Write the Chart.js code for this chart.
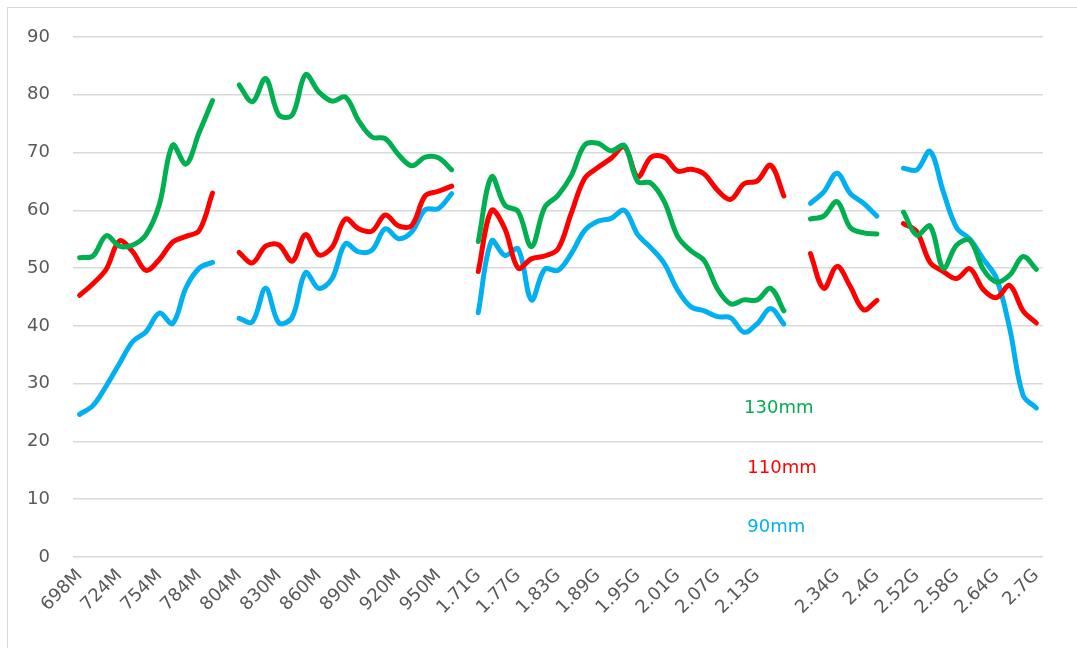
<!DOCTYPE html>
<html>
<head>
<meta charset="utf-8">
<script src="https://cdn.jsdelivr.net/npm/chart.js@4.4.1/dist/chart.umd.min.js"></script>
<style>
  html, body { margin: 0; padding: 0; background: #fff; overflow: hidden; }
  canvas { display: block; }
</style>
</head>
<body>
<canvas id="freqChart" width="1077" height="648"></canvas>
<script>
// frequency points (only every third one is labelled on the axis)
const categories = [
  "698M", "704M", "714M", "724M", "734M", "744M", "754M", "764M", "774M", "784M", "794M",
  "",
  "804M", "814M", "824M", "830M", "840M", "850M", "860M", "870M", "880M", "890M", "900M",
  "910M", "920M", "930M", "940M", "950M", "960M",
  "",
  "1.71G", "1.73G", "1.75G", "1.77G", "1.79G", "1.81G", "1.83G", "1.85G", "1.87G", "1.89G",
  "1.91G", "1.93G", "1.95G", "1.97G", "1.99G", "2.01G", "2.03G", "2.05G", "2.07G", "2.09G",
  "2.11G", "2.13G", "2.15G", "2.17G",
  "",
  "2.3G", "2.32G", "2.34G", "2.36G", "2.38G", "2.4G",
  "",
  "2.5G", "2.52G", "2.54G", "2.56G", "2.58G", "2.6G", "2.62G", "2.64G", "2.66G", "2.68G", "2.7G"
];

const values130 = [
  51.8, 52.1, 55.6, 53.8, 54.0, 55.8, 61.0, 71.3, 68.0, 73.5, 79.0,
  null,
  81.7, 78.8, 82.8, 76.5, 76.5, 83.5, 80.5, 78.9, 79.6, 75.5, 72.7, 72.4, 69.6, 67.7, 69.2, 69.1, 67.0,
  null,
  54.6, 65.8, 60.9, 59.8, 53.7, 60.5, 62.6, 66.0, 71.3, 71.6, 70.3, 71.2, 65.0, 64.7, 61.5, 55.5,
  53.0, 51.3, 46.4, 43.8, 44.5, 44.5, 46.5, 42.6,
  null,
  58.5, 59.0, 61.5, 57.0, 56.1, 55.9,
  null,
  59.7, 55.7, 57.3, 50.0, 54.0, 54.8, 49.8, 47.6, 48.8, 52.0, 49.8
];

const values110 = [
  45.3, 47.3, 49.8, 54.7, 52.8, 49.6, 51.5, 54.5, 55.5, 56.5, 63.0,
  null,
  52.7, 50.9, 53.8, 54.0, 51.2, 55.8, 52.3, 53.6, 58.5, 56.8, 56.4, 59.2, 57.3, 57.4, 62.5, 63.3, 64.2,
  null,
  49.4, 60.0, 56.8, 50.0, 51.6, 52.1, 53.3, 59.5, 65.5, 67.4, 69.0, 71.0, 65.8, 69.2, 69.2, 66.8,
  67.1, 66.3, 63.5, 61.9, 64.6, 65.1, 67.8, 62.5,
  null,
  52.5, 46.5, 50.3, 46.8, 42.8, 44.4,
  null,
  57.7, 56.3, 51.0, 49.4, 48.2, 49.9, 46.3, 44.9, 47.0, 42.6, 40.5
];

const values90 = [
  24.7, 26.2, 29.6, 33.5, 37.3, 39.0, 42.2, 40.4, 46.6, 50.0, 51.0,
  null,
  41.3, 40.7, 46.5, 40.5, 41.5, 49.2, 46.5, 48.2, 54.2, 52.8, 53.1, 56.8, 55.1, 56.3, 60.1, 60.3, 62.9,
  null,
  42.3, 54.7, 52.2, 53.3, 44.5, 49.8, 49.6, 52.5, 56.5, 58.1, 58.6, 60.0, 55.8, 53.5, 50.8, 46.2,
  43.3, 42.6, 41.6, 41.4, 38.9, 40.4, 43.0, 40.3,
  null,
  61.2, 63.2, 66.4, 62.9, 61.2, 59.0,
  null,
  67.3, 67.0, 70.2, 63.2, 57.0, 55.0, 51.6, 48.2, 39.5, 28.0, 25.8
];

const seriesNames = ["130mm", "110mm", "90mm"];
const seriesColors = ["#00B050", "#FF0000", "#00B0F0"];
const yTicks = [0, 10, 20, 30, 40, 50, 60, 70, 80, 90];

const FONT = "'DejaVu Sans', sans-serif";
const TEXT = "#595959";

// series names written inside the plot, Excel text-box style
const seriesTags = [
  { name: seriesNames[0], color: seriesColors[0], at: 50, y: 25.8 },
  { name: seriesNames[1], color: seriesColors[1], at: 50.25, y: 15.4 },
  { name: seriesNames[2], color: seriesColors[2], at: 50.25, y: 5.2 }
];

const decor = {
  id: "decor",
  beforeDraw(chart) {
    const ctx = chart.ctx;
    ctx.save();
    ctx.strokeStyle = "#d9d9d9";
    ctx.lineWidth = 1;
    ctx.strokeRect(7.5, 7.5, 2000, 2000);
    ctx.restore();
  },
  afterDatasetsDraw(chart) {
    const ctx = chart.ctx;
    const xs = chart.scales.x, ys = chart.scales.y;
    ctx.save();
    ctx.font = "18px " + FONT;
    ctx.textAlign = "left";
    ctx.textBaseline = "middle";
    seriesTags.forEach(t => {
      ctx.fillStyle = t.color;
      ctx.fillText(t.name, xs.getPixelForValue(t.at), ys.getPixelForValue(t.y));
    });
    ctx.restore();
  }
};

const makeSet = (i, data) => ({
  label: seriesNames[i],
  data: data,
  borderColor: seriesColors[i],
  backgroundColor: seriesColors[i],
  borderWidth: 5,
  borderCapStyle: "round",
  borderJoinStyle: "round",
  pointRadius: 0,
  pointHoverRadius: 0,
  tension: 0.35,
  spanGaps: false,
  fill: false
});

new Chart(document.getElementById("freqChart").getContext("2d"), {
  type: "line",
  data: {
    labels: categories,
    datasets: [makeSet(0, values130), makeSet(1, values110), makeSet(2, values90)]
  },
  plugins: [decor],
  options: {
    responsive: false,
    animation: false,
    layout: { padding: { left: 0, right: 34, top: 37, bottom: 0 } },
    plugins: {
      legend: { display: false },
      tooltip: { enabled: false }
    },
    scales: {
      x: {
        offset: true,
        grid: { display: false, drawTicks: false },
        border: { display: false },
        ticks: {
          autoSkip: false,
          maxRotation: 45,
          minRotation: 45,
          padding: 8,
          color: TEXT,
          font: { family: FONT, size: 18 },
          callback: function (value, index) {
            return index % 3 === 0 ? categories[index] : null;
          }
        },
        afterFit(scale) { scale.height = 91; }
      },
      y: {
        min: 0,
        max: 90,
        afterBuildTicks(scale) { scale.ticks = yTicks.map(v => ({ value: v })); },
        grid: { color: "#d9d9d9", lineWidth: 1.5, drawTicks: false },
        border: { display: false },
        ticks: {
          padding: 23,
          color: TEXT,
          font: { family: FONT, size: 18 }
        },
        afterFit(scale) { scale.width = 73; }
      }
    }
  }
});
</script>
</body>
</html>
